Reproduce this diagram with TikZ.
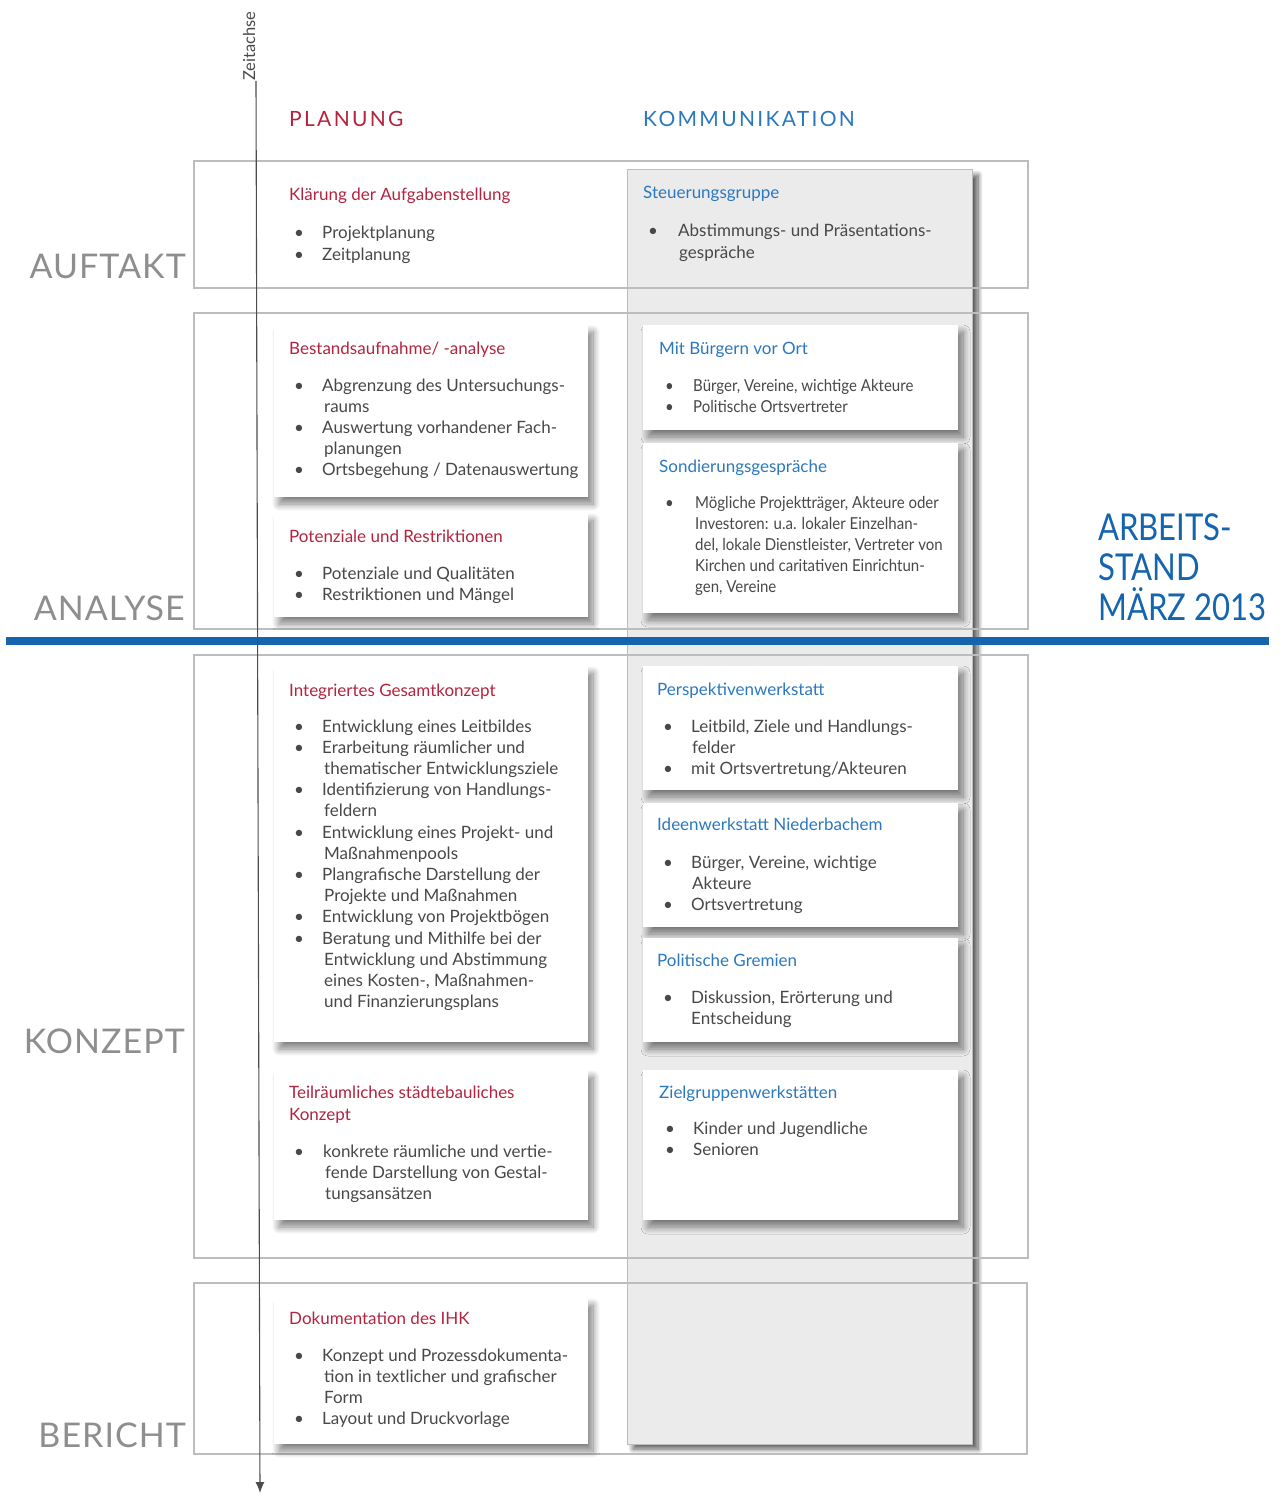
\documentclass[tikz,border=0pt]{standalone}
\usepackage{fontspec}
\setmainfont{Lato}
\usetikzlibrary{shadows.blur,arrows.meta}

\definecolor{planred}{HTML}{B3243F}
\definecolor{kommblue}{HTML}{2B78BF}
\definecolor{lineblue}{HTML}{1565AE}
\definecolor{txtgray}{HTML}{484848}
\definecolor{phasegray}{HTML}{8E8E8E}
\definecolor{framegray}{HTML}{BDBDBD}
\definecolor{colgray}{HTML}{EAEBEA}

% bullet line and continuation line inside a list
\newcommand\bul[1]{\makebox[27pt][l]{\hspace{-1pt}\textbullet}#1}
\newcommand\bulc[1]{\makebox[29pt][l]{\hspace{-1pt}\textbullet}#1}
\newcommand\cnt[1]{\hspace*{29pt}#1}
\newcommand\lst[1]{\parbox[t]{320pt}{\fontsize{17}{21.2}\selectfont #1}}
\newcommand\lstc[1]{\parbox[t]{320pt}{\addfontfeature{FakeStretch=0.91}\fontsize{16.5}{21}\selectfont #1}}

\tikzset{
  card/.style={fill=white, blur shadow={shadow xshift=5pt, shadow yshift=-7pt,
      shadow blur radius=7pt, shadow blur steps=12, shadow opacity=50}},
  column/.style={fill=colgray, draw=framegray, line width=1pt,
    blur shadow={shadow xshift=6pt, shadow yshift=-5pt,
      shadow blur radius=5pt, shadow blur steps=10, shadow opacity=65}},
  frame/.style={draw=framegray, line width=1.2pt},
  ttlL/.style={inner sep=0, anchor=base west, text=planred, font=\fontsize{17}{22}\selectfont},
  ttlR/.style={inner sep=0, anchor=base west, text=kommblue, font=\fontsize{17}{22}\selectfont},
  body/.style={inner sep=0, anchor=base west, text=txtgray},
  phase/.style={inner sep=0, anchor=base east, text=phasegray,
    font=\addfontfeature{LetterSpace=3}\fontsize{34}{34}\selectfont},
  head/.style={inner sep=0, anchor=base west,
    font=\addfontfeature{LetterSpace=11}\fontsize{21}{21}\selectfont},
  stand/.style={inner sep=0, anchor=base west, text=lineblue,
    font=\addfontfeature{FakeStretch=0.84}\fontsize{37}{40}\selectfont},
}

\begin{document}
\begin{tikzpicture}[x=1pt,y=-1pt]
\useasboundingbox (0,0) rectangle (1283,1495);

% communication column
\path[column] (627,170) rectangle (972,1444);

% phase frames
\draw[frame] (194,161) rectangle (1028,288);
\draw[frame] (194,313) rectangle (1028,629);
\draw[frame] (194,655) rectangle (1028,1258);
\draw[frame] (194,1283) rectangle (1027,1454);

% column headings
\node[head, text=planred] (hplan) at (289,127) {PLANUNG};
\node[head, text=kommblue] (hkomm) at (643,127) {KOMMUNIKATION};

% phase labels
\node[phase] (pauf) at (186,279) {AUFTAKT};
\node[phase] (pana) at (185,620) {ANALYSE};
\node[phase] (pkon) at (185,1053) {KONZEPT};
\node[phase] (pber) at (186,1447) {BERICHT};

% cards
\path[card] (274,325) rectangle (588,497);
\path[card] (274,513) rectangle (588,617);
\path[card] (274,666) rectangle (588,1042);
\path[card] (274,1070) rectangle (588,1220);
\path[card] (274,1298) rectangle (588,1444);
\path[card] (643,325) rectangle (958,430);
\path[card] (643,443) rectangle (958,613);
\path[card] (643,666) rectangle (958,790);
\path[card] (643,803) rectangle (958,927);
\path[card] (643,938) rectangle (958,1042);
\path[card] (643,1070) rectangle (958,1220);

% AUFTAKT
\node[ttlL] (t1) at (289,201) {Klärung der Aufgabenstellung};
\node[body] (b1) at (295,239) {\lst{\bul{Projektplanung}\\\bul{Zeitplanung}}};
\node[ttlR] (t2) at (643,199) {Steuerungsgruppe};
\node[body] (b2) at (649,237) {\lst{\bulc{Abstimmungs- und Präsentations-}\\\cnt{\hspace{1pt}gespräche}}};

% ANALYSE
\node[ttlL] (t3) at (289,354) {Bestandsaufnahme/ -analyse};
\node[body] (b3) at (295,391) {\lst{\bul{Abgrenzung des Untersuchungs-}\\\cnt{raums}\\
  \bul{Auswertung vorhandener Fach-}\\\cnt{planungen}\\\bul{Ortsbegehung / Datenauswertung}}};
\node[ttlL] (t4) at (289,542) {Potenziale und Restriktionen};
\node[body] (b4) at (295,579) {\lst{\bul{Potenziale und Qualitäten}\\\bul{Restriktionen und Mängel}}};
\node[ttlR] (t5) at (659,354) {Mit Bürgern vor Ort};
\node[body] (b5) at (665,391) {\lstc{\makebox[28pt][l]{\textbullet}Bürger, Vereine, wichtige Akteure\\
  \makebox[28pt][l]{\textbullet}Politische Ortsvertreter}};
\node[ttlR] (t6) at (659,472) {Sondierungsgespräche};
\node[body] (b6) at (665,508) {\lstc{\makebox[30pt][l]{\textbullet}Mögliche Projektträger, Akteure oder\\
  \hspace*{30pt}Investoren: u.a. lokaler Einzelhan-\\\hspace*{30pt}del, lokale Dienstleister, Vertreter von\\
  \hspace*{30pt}Kirchen und caritativen Einrichtun-\\\hspace*{30pt}gen, Vereine}};

% KONZEPT
\node[ttlL] (t7) at (289,696) {Integriertes Gesamtkonzept};
\node[body] (b7) at (295,732) {\lst{\bul{Entwicklung eines Leitbildes}\\
  \bul{Erarbeitung räumlicher und}\\\cnt{thematischer Entwicklungsziele}\\
  \bul{Identifizierung von Handlungs-}\\\cnt{feldern}\\
  \bul{Entwicklung eines Projekt- und}\\\cnt{Maßnahmenpools}\\
  \bul{Plangrafische Darstellung der}\\\cnt{Projekte und Maßnahmen}\\
  \bul{Entwicklung von Projektbögen}\\
  \bul{Beratung und Mithilfe bei der}\\\cnt{Entwicklung und Abstimmung}\\
  \cnt{eines Kosten-, Maßnahmen-}\\\cnt{und Finanzierungsplans}}};
\node[ttlL, align=left] (t8) at (289,1120) {Teilräumliches städtebauliches\\Konzept};
\node[body] (b8) at (295,1157) {\lst{\makebox[28pt][l]{\hspace{-1pt}\textbullet}konkrete räumliche und vertie-\\
  \hspace*{30pt}fende Darstellung von Gestal-\\\hspace*{30pt}tungsansätzen}};
\node[ttlR] (t9) at (657,695) {Perspektivenwerkstatt};
\node[body] (b9) at (663,732) {\lst{\makebox[28pt][l]{\textbullet}Leitbild, Ziele und Handlungs-\\
  \hspace*{29pt}felder\\\makebox[28pt][l]{\textbullet}mit Ortsvertretung/Akteuren}};
\node[ttlR] (t10) at (657,830) {Ideenwerkstatt Niederbachem};
\node[body] (b10) at (663,868) {\lst{\makebox[28pt][l]{\textbullet}Bürger, Vereine, wichtige\\
  \hspace*{29pt}Akteure\\\makebox[28pt][l]{\textbullet}Ortsvertretung}};
\node[ttlR] (t11) at (657,966) {Politische Gremien};
\node[body] (b11) at (663,1003) {\lst{\makebox[28pt][l]{\textbullet}Diskussion, Erörterung und\\
  \hspace*{28pt}Entscheidung}};
\node[ttlR] (t12) at (659,1098) {Zielgruppenwerkstätten};
\node[body] (b12) at (665,1134) {\lst{\makebox[28pt][l]{\textbullet}Kinder und Jugendliche\\
  \makebox[28pt][l]{\textbullet}Senioren}};

% BERICHT
\node[ttlL] (t13) at (289,1324) {Dokumentation des IHK};
\node[body] (b13) at (295,1361) {\lst{\bul{Konzept und Prozessdokumenta-}\\\cnt{tion in textlicher und grafischer}\\
  \cnt{Form}\\\bul{Layout und Druckvorlage}}};

% status line
\coordinate (sl) at (6,641);
\coordinate (sr) at (1269,641);
\draw[lineblue, line width=8pt] (sl) -- (sr);
\node[stand] (s1) at (1098,540) {ARBEITS-};
\node[stand] (s2) at (1098,580) {STAND};
\node[stand] (s3) at (1098,620) {MÄRZ 2013};

% time axis
\node[inner sep=0, rotate=90, anchor=base west, text=txtgray,
  font=\fontsize{16.5}{16.5}\selectfont] (za) at (255,81) {Zeitachse};
\coordinate (axtop) at (256,81);
\coordinate (axend) at (260,1493);
\draw[line width=1.1pt, draw=black!70, -{Latex[length=11pt,width=9pt]}] (axtop) -- (axend);
\end{tikzpicture}
\end{document}
